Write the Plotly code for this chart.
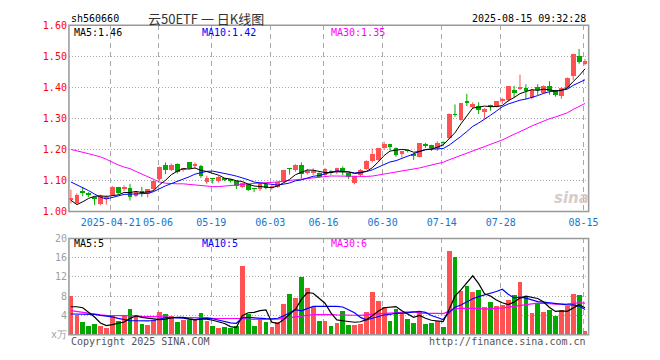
import plotly.graph_objects as go
import pandas as pd

# ---------------- data ----------------
holidays = ["2025-05-01", "2025-05-02", "2025-05-05", "2025-06-02"]
dates = [d.strftime("%Y-%m-%d") for d in pd.bdate_range("2025-04-10", "2025-08-15")
         if d.strftime("%Y-%m-%d") not in holidays]

opens = [1.037, 1.025, 1.065, 1.058, 1.044, 1.022, 1.040, 1.052, 1.077, 1.073,
         1.076, 1.049, 1.064, 1.055, 1.072, 1.104, 1.150, 1.133, 1.153, 1.134,
         1.157, 1.146, 1.145, 1.093, 1.106, 1.097, 1.104, 1.101, 1.096, 1.079,
         1.086, 1.074, 1.070, 1.087, 1.073, 1.079, 1.095, 1.138, 1.132, 1.150,
         1.125, 1.126, 1.124, 1.117, 1.127, 1.125, 1.139, 1.124, 1.091, 1.115,
         1.137, 1.160, 1.165, 1.203, 1.217, 1.203, 1.184, 1.196, 1.184, 1.176,
         1.214, 1.213, 1.204, 1.222, 1.236, 1.313, 1.294, 1.355, 1.336, 1.340,
         1.321, 1.339, 1.337, 1.358, 1.358, 1.392, 1.394, 1.397, 1.366, 1.400,
         1.382, 1.403, 1.388, 1.371, 1.398, 1.437, 1.499, 1.474]
highs = [1.070, 1.058, 1.079, 1.062, 1.049, 1.054, 1.052, 1.082, 1.078, 1.084,
         1.089, 1.066, 1.079, 1.072, 1.099, 1.145, 1.158, 1.154, 1.155, 1.140,
         1.158, 1.158, 1.150, 1.115, 1.107, 1.114, 1.107, 1.104, 1.099, 1.094,
         1.089, 1.075, 1.092, 1.090, 1.085, 1.097, 1.134, 1.139, 1.152, 1.158,
         1.137, 1.139, 1.126, 1.140, 1.133, 1.141, 1.145, 1.125, 1.114, 1.137,
         1.165, 1.203, 1.205, 1.225, 1.218, 1.206, 1.195, 1.199, 1.188, 1.219,
         1.221, 1.215, 1.226, 1.226, 1.316, 1.345, 1.349, 1.379, 1.352, 1.352,
         1.333, 1.344, 1.356, 1.366, 1.404, 1.405, 1.441, 1.410, 1.395, 1.410,
         1.406, 1.420, 1.392, 1.400, 1.432, 1.508, 1.524, 1.492]
lows = [1.026, 1.022, 1.049, 1.046, 1.021, 1.020, 1.022, 1.050, 1.054, 1.066,
        1.035, 1.046, 1.047, 1.045, 1.066, 1.100, 1.120, 1.130, 1.122, 1.128,
        1.136, 1.138, 1.108, 1.089, 1.090, 1.093, 1.098, 1.093, 1.072, 1.075,
        1.066, 1.062, 1.066, 1.071, 1.070, 1.076, 1.093, 1.119, 1.128, 1.106,
        1.119, 1.117, 1.108, 1.114, 1.118, 1.120, 1.117, 1.104, 1.087, 1.112,
        1.134, 1.158, 1.163, 1.198, 1.197, 1.176, 1.174, 1.190, 1.166, 1.174,
        1.205, 1.195, 1.195, 1.210, 1.234, 1.305, 1.292, 1.340, 1.330, 1.314,
        1.299, 1.325, 1.335, 1.346, 1.353, 1.366, 1.392, 1.362, 1.362, 1.375,
        1.378, 1.376, 1.370, 1.363, 1.395, 1.423, 1.476, 1.471]
closes = [1.040, 1.052, 1.061, 1.051, 1.039, 1.048, 1.043, 1.078, 1.058, 1.078,
          1.047, 1.061, 1.060, 1.070, 1.096, 1.143, 1.133, 1.150, 1.127, 1.136,
          1.138, 1.149, 1.112, 1.108, 1.104, 1.111, 1.101, 1.098, 1.081, 1.091,
          1.068, 1.072, 1.089, 1.074, 1.080, 1.094, 1.132, 1.136, 1.150, 1.121,
          1.128, 1.129, 1.111, 1.137, 1.124, 1.139, 1.125, 1.111, 1.113, 1.134,
          1.163, 1.183, 1.203, 1.217, 1.207, 1.180, 1.193, 1.194, 1.180, 1.218,
          1.212, 1.203, 1.221, 1.220, 1.314, 1.310, 1.347, 1.351, 1.345, 1.326,
          1.330, 1.336, 1.354, 1.361, 1.402, 1.382, 1.400, 1.387, 1.392, 1.390,
          1.402, 1.388, 1.373, 1.397, 1.430, 1.506, 1.481, 1.485]
volumes = [7.9, 3.9, 2.6, 1.8, 2.2, 1.6, 1.2, 3.7, 2.8, 3.9,
           5.2, 3.9, 2.2, 2.0, 3.0, 4.6, 4.2, 3.7, 2.6, 3.0,
           3.0, 3.0, 4.4, 2.8, 1.8, 1.2, 1.4, 1.2, 1.8, 14.2,
           4.2, 1.8, 3.0, 2.6, 1.4, 2.6, 6.2, 8.4, 7.6, 11.8,
           9.6, 5.7, 2.8, 2.8, 1.7, 2.4, 4.8, 2.0, 2.0, 2.2,
           4.6, 8.8, 6.8, 5.6, 2.8, 5.2, 4.4, 3.2, 2.4, 4.8,
           2.2, 2.4, 2.8, 1.4, 17.4, 16.0, 9.0, 10.0, 8.8, 9.2,
           5.6, 6.6, 5.8, 6.0, 7.2, 8.2, 10.8, 7.8, 4.4, 6.4,
           4.6, 5.0, 3.8, 5.0, 5.8, 8.4, 8.2, 0.6]

ma5_head = [1.036, 1.022, 1.031, 1.042]
ma10_head = [1.095, 1.086, 1.077, 1.067, 1.056, 1.046, 1.040, 1.046, 1.050]
ma30_head = [1.200, 1.196, 1.191, 1.186, 1.181, 1.176, 1.168, 1.158, 1.150, 1.143,
             1.138, 1.129, 1.120, 1.112, 1.103, 1.095, 1.091, 1.089, 1.089, 1.089,
             1.087, 1.086, 1.085, 1.082, 1.080, 1.080, 1.082, 1.084, 1.086]
vma5_head = [5.8, 5.8, 5.6, 4.6]
vma10_head = [4.3, 4.3, 4.3, 4.2, 4.2, 4.0, 3.9, 3.7, 3.4]
vma30_head = [5.0, 4.8, 4.6, 4.4, 4.2, 4.1, 4.0, 4.0, 4.0, 3.9,
              3.9, 3.9, 3.8, 3.8, 3.7, 3.7, 3.7, 3.6, 3.6, 3.6,
              3.6, 3.5, 3.5, 3.5, 3.4, 3.4, 3.3, 3.3, 3.3]

tick_dates = ["2025-04-21", "2025-05-06", "2025-05-19", "2025-06-03", "2025-06-16",
              "2025-06-30", "2025-07-14", "2025-07-28", "2025-08-15"]
tick_labels = ["2025-04-21", "05-06", "05-19", "06-03", "06-16",
               "06-30", "07-14", "07-28", "08-15"]
price_ticks = [1.00, 1.10, 1.20, 1.30, 1.40, 1.50, 1.60]
vol_ticks = [0, 4, 8, 12, 16, 20]
vol_tick_labels = ["x万", "4", "8", "12", "16", "20"]

# ---------------- helpers ----------------
W, H = 660, 360
def px(x): return x / W
def py(y): return 1 - y / H

def moving(vals, n, head):
    out = list(head)
    for i in range(n - 1, len(vals)):
        out.append(sum(vals[i - n + 1:i + 1]) / n)
    return out

N = len(dates)
idx = list(range(N))
UP, DOWN = "#ff5252", "#00a800"
MONO = "DejaVu Sans Mono"

up = [c >= o for o, c in zip(opens, closes)]
colors = [UP if u else DOWN for u in up]
body_base = [min(o, c) for o, c in zip(opens, closes)]
body_h = [max(abs(c - o), 0.0022) for o, c in zip(opens, closes)]

ma5 = moving(closes, 5, ma5_head)
ma10 = moving(closes, 10, ma10_head)
ma30 = moving(closes, 30, ma30_head)
vma5 = moving(volumes, 5, vma5_head)
vma10 = moving(volumes, 10, vma10_head)
vma30 = moving(volumes, 30, vma30_head)

fig = go.Figure()

# wicks
for flag, col in ((True, UP), (False, DOWN)):
    wx, wy = [], []
    for i in idx:
        if up[i] == flag:
            wx += [i, i, None]
            wy += [lows[i], highs[i], None]
    fig.add_trace(go.Scatter(x=wx, y=wy, mode="lines", line=dict(color=col, width=1),
                             xaxis="x", yaxis="y", hoverinfo="skip"))

# bodies
fig.add_trace(go.Bar(x=idx, y=body_h, base=body_base, width=0.8,
                     marker=dict(color=colors, line=dict(width=0)),
                     xaxis="x", yaxis="y"))

# price MAs
for vals, col in ((ma30, "#ff00ff"), (ma10, "#0000ff"), (ma5, "#000000")):
    fig.add_trace(go.Scatter(x=idx, y=vals, mode="lines", line=dict(color=col, width=1),
                             xaxis="x", yaxis="y"))

# volume
fig.add_trace(go.Bar(x=idx, y=volumes, width=0.8,
                     marker=dict(color=colors, line=dict(width=0)),
                     xaxis="x2", yaxis="y2"))
for vals, col in ((vma30, "#ff00ff"), (vma10, "#0000ff"), (vma5, "#000000")):
    fig.add_trace(go.Scatter(x=idx, y=vals, mode="lines", line=dict(color=col, width=1.2),
                             xaxis="x2", yaxis="y2"))

tickpos = [dates.index(d) - 0.25 for d in tick_dates]
xr = [-1 / 3, (597.7 - 72) / 6]

x_dom = [px(70), px(597.7)]
fig.update_layout(
    width=W, height=H, margin=dict(l=0, r=0, t=0, b=0), autosize=False,
    paper_bgcolor="white", plot_bgcolor="white", showlegend=False,
    barmode="overlay", bargap=0,
    font=dict(family=MONO, size=10),
    xaxis=dict(domain=x_dom, range=xr, anchor="y", tickmode="array", tickvals=tickpos,
               ticktext=tick_labels, showgrid=True, gridcolor="#a8a8a8", griddash="5px,4px",
               gridwidth=1, zeroline=False, showline=False, ticks="", ticklabelstandoff=4,
               tickfont=dict(family=MONO, size=10, color="#1874cd")),
    yaxis=dict(domain=[py(212.5), py(20)], range=[1.0, 1.6], anchor="x", tickmode="array",
               tickvals=price_ticks, ticktext=[f"{v:.2f}" for v in price_ticks],
               showgrid=True, gridcolor="#aaaaaa", griddash="1px,2px", gridwidth=1,
               zeroline=False, showline=False, ticks="", ticklabelstandoff=1,
               tickfont=dict(family=MONO, size=10, color="#ff0000")),
    xaxis2=dict(domain=x_dom, range=xr, anchor="y2", tickmode="array", tickvals=tickpos,
                showticklabels=False, showgrid=True, gridcolor="#a8a8a8", griddash="5px,4px",
                gridwidth=1, zeroline=False, showline=False, ticks=""),
    yaxis2=dict(domain=[py(340), py(240.5)], range=[0, 20], anchor="x2", tickmode="array",
                tickvals=vol_ticks, ticktext=vol_tick_labels,
                showgrid=True, gridcolor="#aaaaaa", griddash="1px,2px", gridwidth=1,
                zeroline=False, showline=False, ticks="", ticklabelstandoff=1,
                tickfont=dict(family=MONO, size=10, color="#a0a0a0")),
)

# panel borders
for y0, y1 in ((20, 212.5), (240.5, 340)):
    fig.add_shape(type="rect", xref="paper", yref="paper", x0=px(70), x1=px(597.7),
                  y0=py(y1), y1=py(y0), line=dict(color="#999999", width=1.5),
                  fillcolor="rgba(0,0,0,0)", layer="above")

def note(text, x, y, anchor="left", color="#000000", size=10, family=MONO, **kw):
    fig.add_annotation(text=text, x=px(x), y=py(y), xref="paper", yref="paper",
                       xanchor=anchor, yanchor="middle", showarrow=False,
                       font=dict(family=family, size=size, color=color), **kw)

note("sh560660", 70, 13)
note("云50ETF 一 日K线图", 209, 13, anchor="center", color="#333333", size=13,
     family="Noto Sans CJK SC")
note("2025-08-15 09:32:28", 597, 13, anchor="right")

note(f"MA5:{ma5[-1]:.2f}", 73, 27)
note(f"MA10:{ma10[-1]:.2f}", 203, 27, color="#0000ff")
note(f"MA30:{ma30[-1]:.2f}", 334, 27, color="#ff00ff")
note(f"MA5:{int(vma5[-1])}", 73, 246)
note(f"MA10:{int(vma10[-1])}", 203, 246, color="#0000ff")
note(f"MA30:{int(vma30[-1])}", 334, 246, color="#ff00ff")

note("Copyright 2025 SINA.COM", 70, 347, color="#555555")
note("http://finance.sina.com.cn", 597, 347, anchor="right", color="#555555")
note("<b><i>sina</i></b>", 580, 199, anchor="center", color="#d5cccc", size=15,
     family="DejaVu Sans")

fig.write_html("out.html", config={"displayModeBar": False},
               post_script="document.body.style.margin='0';")
